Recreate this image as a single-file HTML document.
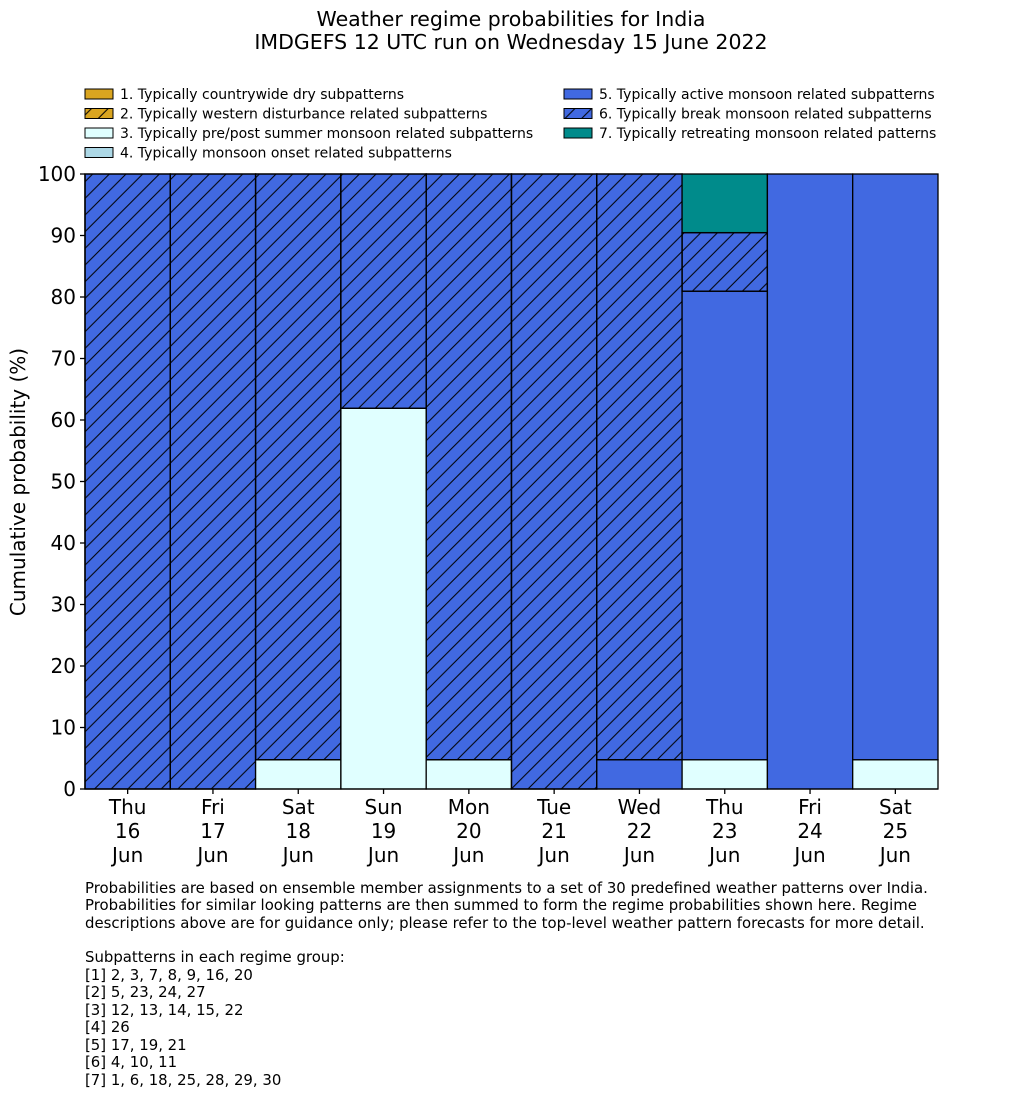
<!DOCTYPE html>
<html><head><meta charset="utf-8">
<style>
body{margin:0;background:#fff;}
svg text{font-family:"DejaVu Sans","Liberation Sans",sans-serif;fill:#000;}
</style></head>
<body>
<svg id="chart" width="1033" height="1114" viewBox="0 0 1033 1114" xmlns="http://www.w3.org/2000/svg">
<defs>
<pattern id="hatch" patternUnits="userSpaceOnUse" width="16.67" height="16.67">
<path d="M-4,4 L4,-4 M0,16.67 L16.67,0 M12.67,20.67 L20.67,12.67" stroke="#000" stroke-width="1"/>
</pattern>
</defs>
<text x="511" y="26" font-size="20.5" text-anchor="middle">Weather regime probabilities for India</text>
<text x="511" y="49" font-size="20.5" text-anchor="middle">IMDGEFS 12 UTC run on Wednesday 15 June 2022</text>
<g id="legend"></g>
<g id="bars"></g>
<g id="axes"></g>
<text transform="translate(25,482) rotate(-90)" font-size="20" text-anchor="middle">Cumulative probability (%)</text>
<g font-size="14.9">
<text x="85" y="893">Probabilities are based on ensemble member assignments to a set of 30 predefined weather patterns over India.</text>
<text x="85" y="910">Probabilities for similar looking patterns are then summed to form the regime probabilities shown here. Regime</text>
<text x="85" y="928">descriptions above are for guidance only; please refer to the top-level weather pattern forecasts for more detail.</text>
<text x="85" y="962">Subpatterns in each regime group:</text>
<text x="85" y="980">[1] 2, 3, 7, 8, 9, 16, 20</text>
<text x="85" y="997">[2] 5, 23, 24, 27</text>
<text x="85" y="1015">[3] 12, 13, 14, 15, 22</text>
<text x="85" y="1032">[4] 26</text>
<text x="85" y="1050">[5] 17, 19, 21</text>
<text x="85" y="1067">[6] 4, 10, 11</text>
<text x="85" y="1085">[7] 1, 6, 18, 25, 28, 29, 30</text>
</g>
</svg>
<script>
const days = ["Thu","Fri","Sat","Sun","Mon","Tue","Wed","Thu","Fri","Sat"];
const dates = ["16","17","18","19","20","21","22","23","24","25"];
const r1 = [0,0,0,0,0,0,0,0,0,0];
const r2 = [0,0,0,0,0,0,0,0,0,0];
const r3 = [0,0,4.76,61.9,4.76,0,0,4.76,0,4.76];
const r4 = [0,0,0,0,0,0,0,0,0,0];
const r5 = [0,0,0,0,0,0,4.76,76.19,100,95.24];
const r6 = [100,100,95.24,38.1,95.24,100,95.24,9.52,0,0];
const r7 = [0,0,0,0,0,0,0,9.53,0,0];
const yTicks = [0,10,20,30,40,50,60,70,80,90,100];
const legendLabels = ["1. Typically countrywide dry subpatterns","2. Typically western disturbance related subpatterns","3. Typically pre/post summer monsoon related subpatterns","4. Typically monsoon onset related subpatterns","5. Typically active monsoon related subpatterns","6. Typically break monsoon related subpatterns","7. Typically retreating monsoon related patterns"];

const NS="http://www.w3.org/2000/svg";
const X0=85,X1=938,Y0=789,Y1=174;
const bw=(X1-X0)/days.length;
const xs=i=>X0+i*bw;
const ys=v=>Y0-(v/100)*(Y0-Y1);
const colors=["#DAA520","#DAA520","#E0FFFF","#ADD8E6","#4169E1","#4169E1","#008B8B"];
const hatched=[false,true,false,false,false,true,false];
const series=[r1,r2,r3,r4,r5,r6,r7];
function mk(tag,attrs,parent){const e=document.createElementNS(NS,tag);for(const k in attrs)e.setAttribute(k,attrs[k]);parent.appendChild(e);return e;}

const bars=document.getElementById('bars');
for(let i=0;i<days.length;i++){
  let cum=0;
  for(let s=0;s<series.length;s++){
    const v=series[s][i];
    if(v<=0)continue;
    const yt=ys(cum+v),yb=ys(cum);
    const r=mk('rect',{x:xs(i),y:yt,width:bw,height:yb-yt,fill:colors[s],stroke:'#000','stroke-width':1.3},bars);
    
    
    if(hatched[s]){
      const h=mk('rect',{x:xs(i),y:yt,width:bw,height:yb-yt,fill:'url(#hatch)',stroke:'#000','stroke-width':1.3},bars);
      
      
    }
    cum+=v;
  }
}
const ax=document.getElementById('axes');
mk('line',{x1:X0,y1:Y0,x2:X0,y2:Y1,stroke:'#000','stroke-width':1.3},ax);
mk('line',{x1:X0,y1:Y0,x2:X1,y2:Y0,stroke:'#000','stroke-width':1.3},ax);
yTicks.forEach(t=>{
  mk('line',{x1:X0-5,y1:ys(t),x2:X0,y2:ys(t),stroke:'#000','stroke-width':1.3},ax);
  const tx=mk('text',{x:X0-9,y:ys(t)+7,'font-size':20,'text-anchor':'end'},ax);
  tx.textContent=t;
  
  
});
days.forEach((d,i)=>{
  const cx=xs(i)+bw/2;
  mk('line',{x1:cx,y1:Y0,x2:cx,y2:Y0+5,stroke:'#000','stroke-width':1.3},ax);
  [d,dates[i],'Jun'].forEach((s,k)=>{
    const tx=mk('text',{x:cx,y:814+k*24,'font-size':20,'text-anchor':'middle'},ax);
    tx.textContent=s;
    
    
  });
});
const lg=document.getElementById('legend');
legendLabels.forEach((l,i)=>{
  const col=i<4?0:1,row=i<4?i:i-4;
  const x=col?564:85,y=89+row*19.5;
  const g=mk('g',{},lg);
  
  
  mk('rect',{x:x,y:y,width:28,height:10,fill:colors[i],stroke:'#000','stroke-width':1},g);
  if(hatched[i])mk('rect',{x:x,y:y,width:28,height:10,fill:'url(#hatch)',stroke:'#000','stroke-width':1},g);
  const t=mk('text',{x:x+35,y:y+10,'font-size':14},g);
  t.textContent=l;
});
</script>
</body></html>
